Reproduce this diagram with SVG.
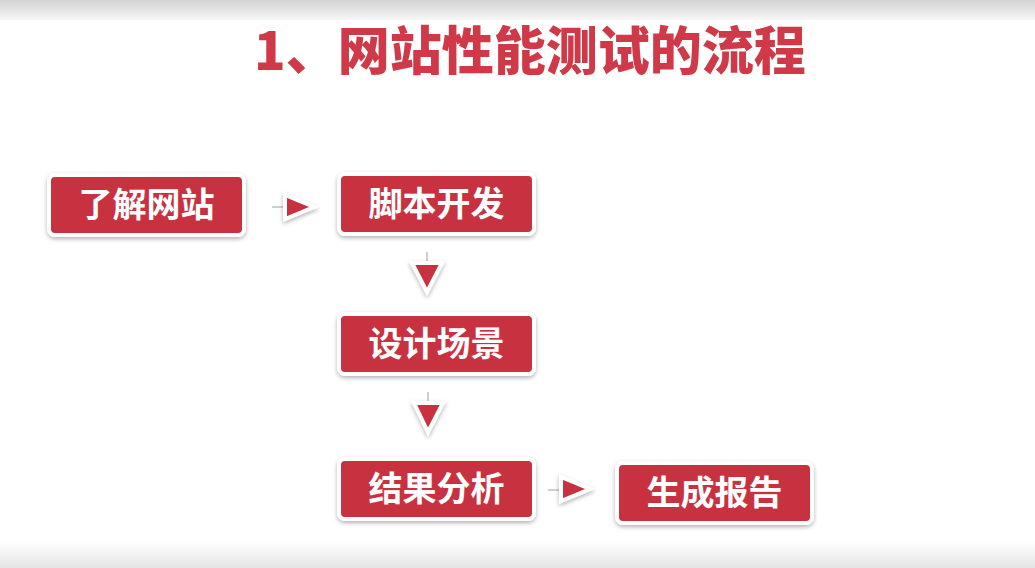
<svg xmlns="http://www.w3.org/2000/svg" width="1035" height="568" viewBox="0 0 1035 568">
<defs>
<linearGradient id="topg" x1="0" y1="0" x2="0" y2="1"><stop offset="0" stop-color="#d2d2d2"/><stop offset="1" stop-color="#f7f7f7"/></linearGradient>
<linearGradient id="botg" x1="0" y1="0" x2="0" y2="1"><stop offset="0" stop-color="#ffffff"/><stop offset="1" stop-color="#e4e4e4"/></linearGradient>
<filter id="sh" x="-20%" y="-30%" width="140%" height="160%"><feDropShadow dx="0" dy="2" stdDeviation="2" flood-color="#000" flood-opacity="0.3"/></filter>
</defs>
<style>
.box{fill:#c8323f;stroke:#fff;stroke-width:4;filter:url(#sh)}
.lbl{font-family:"Noto Sans CJK SC","Noto Sans",sans-serif;font-weight:bold;font-size:34px;fill:#fff;text-anchor:middle}
.title{font-family:"Noto Sans CJK SC","Noto Sans",sans-serif;font-weight:900;font-size:52px;fill:#d03a48}
.tri{fill:#c8323f;stroke:#fff;stroke-width:4;stroke-linejoin:miter;filter:url(#sh)}
.tail{stroke:#cfcfcf;stroke-width:2}
</style>
<rect x="0" y="0" width="1035" height="568" fill="#ffffff"/>
<rect x="0" y="0" width="1035" height="20" fill="url(#topg)"/>
<rect x="0" y="542" width="1035" height="26" fill="url(#botg)"/>
<text class="title" x="254" y="70">1、网站性能测试的流程</text>
<g id="connectors">
<line class="tail" x1="272" y1="207" x2="287" y2="207"/>
<polygon class="tri" points="285,195 314,207 285,219"/>
<line class="tail" x1="427" y1="252" x2="427" y2="264"/>
<polygon class="tri" points="412,263 442,263 427,292"/>
<line class="tail" x1="428" y1="392" x2="428" y2="404"/>
<polygon class="tri" points="414,403 443,403 428,432"/>
<line class="tail" x1="548" y1="490" x2="563" y2="490"/>
<polygon class="tri" points="561,477 590,489 561,501"/>
</g>
<g id="n1"><rect class="box" x="49" y="175" width="195" height="60" rx="6"/><text class="lbl" x="146.5" y="217">了解网站</text></g>
<g id="n2"><rect class="box" x="339" y="174" width="195" height="60" rx="6"/><text class="lbl" x="436.5" y="216">脚本开发</text></g>
<g id="n3"><rect class="box" x="339" y="314" width="195" height="60" rx="6"/><text class="lbl" x="436.5" y="356">设计场景</text></g>
<g id="n4"><rect class="box" x="339" y="459" width="195" height="60" rx="6"/><text class="lbl" x="436.5" y="501">结果分析</text></g>
<g id="n5"><rect class="box" x="617" y="463" width="195" height="60" rx="6"/><text class="lbl" x="714.5" y="505">生成报告</text></g>
</svg>
